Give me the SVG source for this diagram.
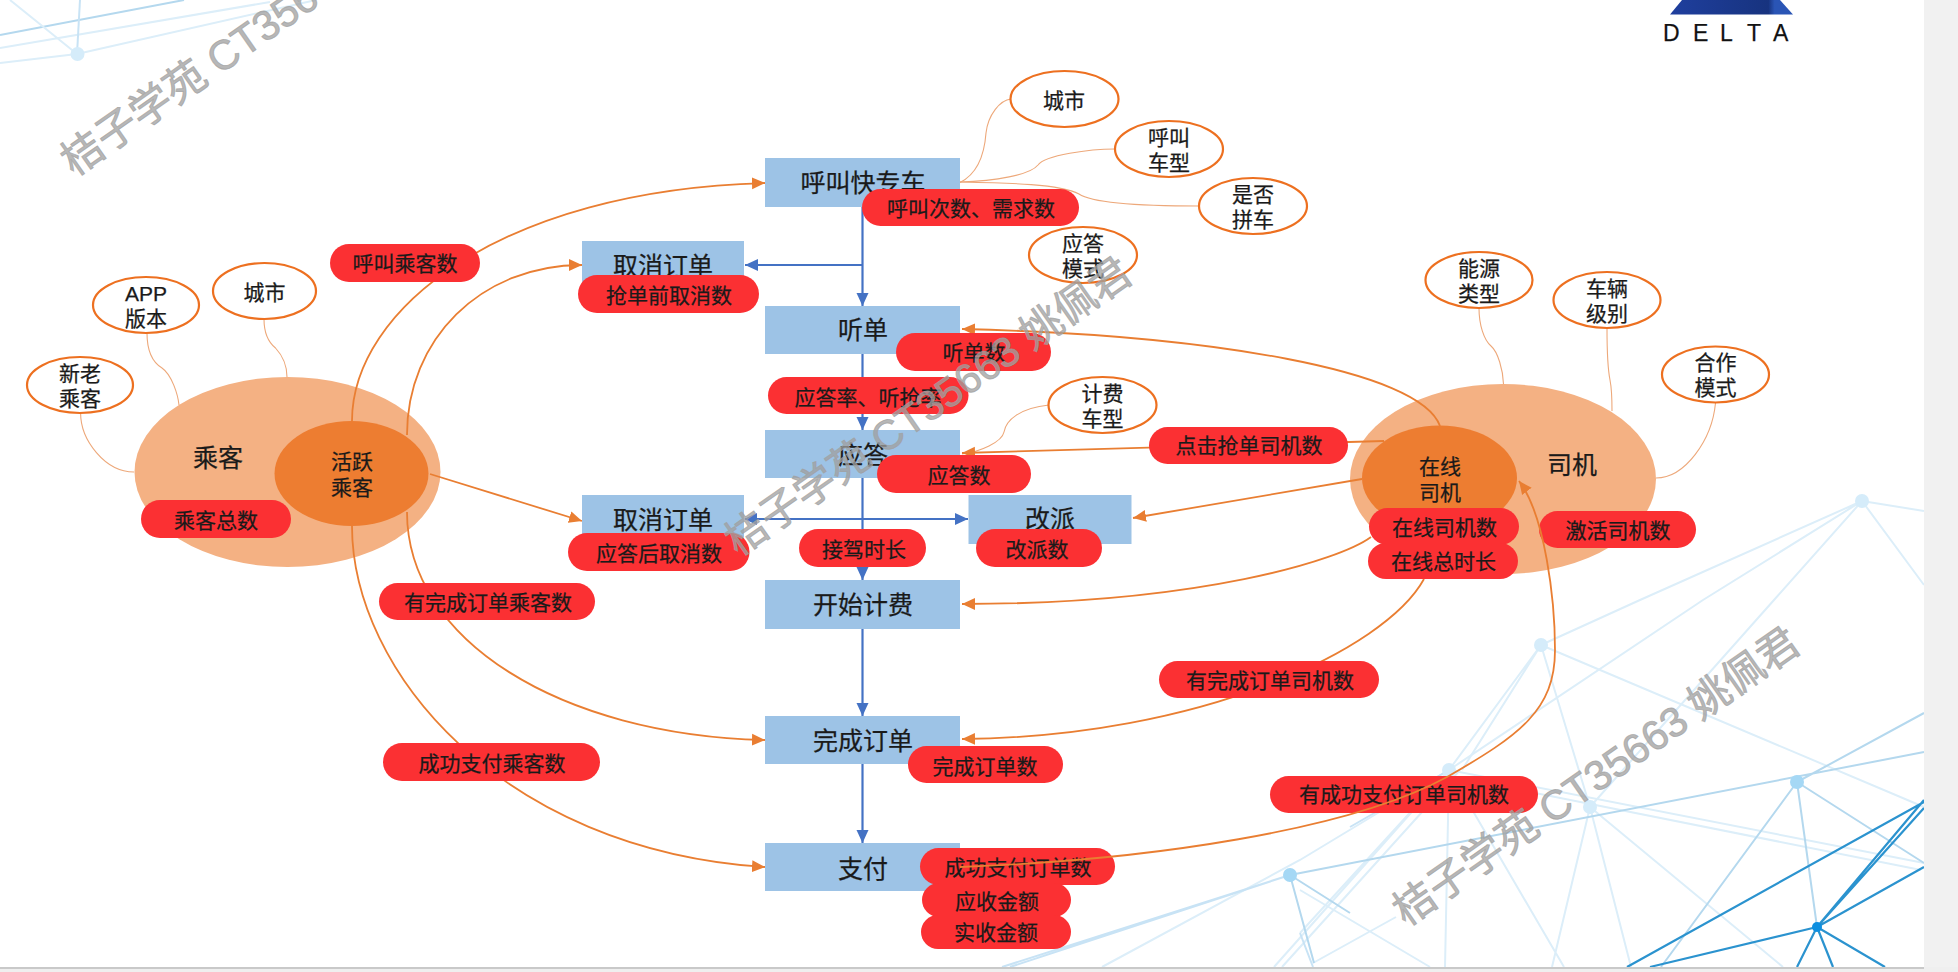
<svg xmlns="http://www.w3.org/2000/svg" width="1958" height="972" viewBox="0 0 1958 972">
<style>
text{font-family:"Liberation Sans","Noto Sans CJK SC",sans-serif;fill:#1a1a1a;stroke:#1a1a1a;stroke-width:.25;text-anchor:middle;dominant-baseline:central}
.box{fill:#9DC3E6}
.big{font-size:25px}
.pill{fill:#FB3033}
.pt{font-size:21px}
.attr{fill:#fff;stroke:#ED7020;stroke-width:2.2}
.at{font-size:21px}
.o{fill:none;stroke:#E97E32;stroke-width:1.8}
.thin{fill:none;stroke:#EDA87A;stroke-width:1.1}
.b{fill:none;stroke:#4472C4;stroke-width:2.2}
.l1{stroke:#DCEEF9;stroke-width:2;fill:none}
.l2{stroke:#C8E3F5;stroke-width:2;fill:none}
.l3{stroke:#B4D8EE;stroke-width:2;fill:none}
.l4{stroke:#2B93CF;stroke-width:2.2;fill:none}
.wm{font-size:41.5px;fill:#a0a0a0;fill-opacity:.75;stroke:#a0a0a0;stroke-opacity:.75;stroke-width:.9;text-anchor:start;dominant-baseline:auto}
</style>
<defs>
<marker id="ao" markerUnits="userSpaceOnUse" markerWidth="14" markerHeight="14" refX="13" refY="7" orient="auto"><path d="M0 1L13 7L0 13z" fill="#E97E32"/></marker>
<marker id="ab" markerUnits="userSpaceOnUse" markerWidth="14" markerHeight="14" refX="13" refY="7" orient="auto"><path d="M0 1L13 7L0 13z" fill="#4472C4"/></marker>
<marker id="abs" markerUnits="userSpaceOnUse" markerWidth="14" markerHeight="14" refX="1" refY="7" orient="auto"><path d="M13 1L0 7L13 13z" fill="#4472C4"/></marker>
<linearGradient id="lg" x1="0" y1="0" x2="1" y2="0"><stop offset="0" stop-color="#1F3F9E"/><stop offset=".8" stop-color="#17337F"/><stop offset=".85" stop-color="#2A55B5"/><stop offset="1" stop-color="#2A55B5"/></linearGradient>
</defs>
<rect width="1958" height="972" fill="#fff"/>
<g id="background">
<path class="l3" d="M0 35L184 0"/>
<path class="l1" d="M0 48L270 2M0 63L77 54L316 0M77 54L10 0"/>
<path class="l2" d="M77 54L80 0"/>
<path class="l1" d="M1862 501L1924 511M1862 501L1924 585M1862 501L1640 600L1541 645M1862 501L1703 600L1449 770M1862 501L1774 600L1590 807"/>
<path class="l1" d="M1541 645L1924 807M1541 645L1449 770M1541 645L1462 770M1541 645L1590 807M1449 770L1924 863M1470 780L1921 870"/>
<path class="l1" d="M1590 807L1552 967M1590 807L1631 967M1590 807L1783 967M1449 770L1564 967M1449 770L1445 967M1449 770L1300 933M1449 770L1300 860L1102 967M1449 770L1274 967M1460 770L1282 967M1300 890L1430 967M1396 917L1313 963"/>
<path class="l2" d="M1449 770L1350 827M1300 933L1313 967"/>
<path class="l3" d="M1290 875L1924 752M1797 782L1924 713M1797 782L1924 863M1797 782L1661 967M1797 782L1817 927M1290 875L1314 963M1290 875L1350 913"/>
<path class="l2" d="M1290 875L1002 967M1290 875L1010 967"/>
<path class="l4" d="M1817 927L1924 800M1817 927L1924 808M1817 927L1924 867M1817 927L1650 967M1817 927L1797 967M1817 927L1833 967M1817 927L1885 967M1627 967L1924 802"/>
<g fill="#D5ECFA"><circle cx="77.5" cy="54" r="7"/><circle cx="1862" cy="501" r="7"/><circle cx="1541" cy="645" r="7"/><circle cx="1449" cy="770" r="7"/><circle cx="1590" cy="807" r="7"/></g>
<circle cx="1290" cy="875" r="7" fill="#A5D8F5"/><circle cx="1797" cy="782" r="7" fill="#A5D8F5"/><circle cx="1817" cy="927" r="5" fill="#0D8FE0"/>
</g>
<g id="logo"><path d="M1682 0H1780L1793 14.5H1670Z" fill="url(#lg)"/><text x="1663 1693 1720 1747 1773" y="33" style="font-size:23px;text-anchor:start;fill:#111">DELTA</text></g>
<g id="node-passenger"><ellipse cx="287.5" cy="472" rx="153" ry="95" fill="#F4B183"/><text class="big" x="218" y="458">乘客</text></g>
<g id="node-driver"><ellipse cx="1503" cy="479" rx="153" ry="95" fill="#F4B183"/><text class="big" x="1572" y="465">司机</text></g>
<g id="connectors">
<path class="thin" d="M80.6 413C80.6 440 105 472 134 472"/>
<path class="thin" d="M147 333C147 350 152 362 162 368C172 375 178 395 179 405"/>
<path class="thin" d="M264 319C264 332 268 342 275.5 348C282 355 287 365 287 377"/>
<path class="thin" d="M960 182.5C975 175 984 160 986 133C988 115 1000 100 1011 99"/>
<path class="thin" d="M960 182C995 181 1030 175 1038 165C1045 155 1090 149 1115 149"/>
<path class="thin" d="M960 182C1010 183 1060 184 1079 194C1095 205 1170 206 1200 206"/>
<path class="thin" d="M1049 405C1020 408 1006 420 1004 432C1002 442 980 452 962 454"/>
<path class="thin" d="M1479 308C1479 325 1484 340 1491 346C1498 352 1503 370 1503.5 384"/>
<path class="thin" d="M1607 328C1607 350 1608 370 1610 380C1612 390 1612 400 1612 411"/>
<path class="thin" d="M1715.5 403C1712 440 1685 478 1656 478"/>
<path class="o" marker-end="url(#ao)" d="M352 421C352 310 500 190 765 183"/>
<path class="o" marker-end="url(#ao)" d="M407 435C407 340 480 265 582 265"/>
<path class="o" marker-end="url(#ao)" d="M430 474L582 521"/>
<path class="o" marker-end="url(#ao)" d="M407 512C407 640 560 735 765 740"/>
<path class="o" marker-end="url(#ao)" d="M352 526C352 670 500 850 765 867"/>
<path class="o" marker-end="url(#ao)" d="M1440 426C1420 370 1210 335 962 329"/>
<path class="o" marker-end="url(#ao)" d="M1384 441L962 453"/>
<path class="o" marker-end="url(#ao)" d="M1362 479L1133 518"/>
<path class="o" marker-end="url(#ao)" d="M1371 537C1340 560 1200 604 962 604"/>
<path class="o" marker-end="url(#ao)" d="M1424 579C1385 650 1200 737 962 739"/>
<path class="b" marker-end="url(#ab)" d="M862.5 207V306"/>
<path class="b" marker-end="url(#ab)" d="M862.5 265H745"/>
<path class="b" marker-end="url(#ab)" d="M862.5 354V430"/>
<path class="b" marker-end="url(#ab)" d="M862.5 478V580"/>
<path class="b" marker-start="url(#abs)" marker-end="url(#ab)" d="M745 519H968"/>
<path class="b" marker-end="url(#ab)" d="M862.5 629V716"/>
<path class="b" marker-end="url(#ab)" d="M862.5 764V843"/>
</g>
<g id="node-active-passenger"><ellipse cx="351.5" cy="473.5" rx="77" ry="52.5" fill="#ED7D31"/><text class="at" x="352" y="461">活跃</text><text class="at" x="352" y="487">乘客</text></g>
<g id="node-online-driver"><ellipse cx="1439.5" cy="478" rx="77.5" ry="52.5" fill="#ED7D31"/><text class="at" x="1440" y="466">在线</text><text class="at" x="1440" y="492">司机</text></g>
<g id="step-call"><rect class="box" x="765" y="158" width="195" height="49"/><text class="big" x="863" y="183">呼叫快专车</text></g>
<g id="step-cancel1"><rect class="box" x="582" y="241" width="162" height="49"/><text class="big" x="663" y="266">取消订单</text></g>
<g id="step-listen"><rect class="box" x="765" y="306" width="195" height="48"/><text class="big" x="863" y="330">听单</text></g>
<g id="step-answer"><rect class="box" x="765" y="430" width="195" height="48"/><text class="big" x="863" y="455">应答</text></g>
<g id="step-cancel2"><rect class="box" x="582" y="495" width="162" height="49"/><text class="big" x="663" y="520">取消订单</text></g>
<g id="step-reassign"><rect class="box" x="968.5" y="495" width="163" height="49"/><text class="big" x="1050" y="519">改派</text></g>
<g id="step-billing"><rect class="box" x="765" y="580" width="195" height="49"/><text class="big" x="863" y="605">开始计费</text></g>
<g id="step-done"><rect class="box" x="765" y="716" width="195" height="48"/><text class="big" x="863" y="741">完成订单</text></g>
<g id="step-pay"><rect class="box" x="765" y="843" width="195" height="48"/><text class="big" x="863" y="869">支付</text></g>
<g id="attr-1"><ellipse class="attr" cx="80" cy="385" rx="53" ry="28"/><text class="at" x="80" y="373">新老</text><text class="at" x="80" y="398.5">乘客</text></g>
<g id="attr-2"><ellipse class="attr" cx="146" cy="305" rx="53" ry="28"/><text class="at" x="146" y="293">APP</text><text class="at" x="146" y="318">版本</text></g>
<g id="attr-3"><ellipse class="attr" cx="264.5" cy="291" rx="51.5" ry="28"/><text class="at" x="264.5" y="292">城市</text></g>
<g id="attr-4"><ellipse class="attr" cx="1064.5" cy="99" rx="54" ry="28"/><text class="at" x="1064" y="100">城市</text></g>
<g id="attr-5"><ellipse class="attr" cx="1169" cy="149" rx="54" ry="28"/><text class="at" x="1169" y="137">呼叫</text><text class="at" x="1169" y="162">车型</text></g>
<g id="attr-6"><ellipse class="attr" cx="1253" cy="206" rx="54" ry="28"/><text class="at" x="1253" y="194">是否</text><text class="at" x="1253" y="219.5">拼车</text></g>
<g id="attr-7"><ellipse class="attr" cx="1083" cy="255" rx="54" ry="28"/><text class="at" x="1083" y="243">应答</text><text class="at" x="1083" y="268">模式</text></g>
<g id="attr-8"><ellipse class="attr" cx="1102.5" cy="405" rx="54" ry="28"/><text class="at" x="1102.5" y="393">计费</text><text class="at" x="1102.5" y="418.5">车型</text></g>
<g id="attr-9"><ellipse class="attr" cx="1479" cy="280" rx="53.5" ry="28"/><text class="at" x="1479" y="268">能源</text><text class="at" x="1479" y="293">类型</text></g>
<g id="attr-10"><ellipse class="attr" cx="1607" cy="300" rx="53.5" ry="28"/><text class="at" x="1607" y="288.5">车辆</text><text class="at" x="1607" y="313">级别</text></g>
<g id="attr-11"><ellipse class="attr" cx="1715.5" cy="374.5" rx="53.5" ry="28"/><text class="at" x="1715.5" y="362.6">合作</text><text class="at" x="1715.5" y="387.6">模式</text></g>
<g id="m-1"><rect class="pill" x="330" y="244" width="150" height="38" rx="19"/><text class="pt" x="405" y="263">呼叫乘客数</text></g>
<g id="m-2"><rect class="pill" x="578" y="275" width="181" height="38" rx="19"/><text class="pt" x="669" y="295">抢单前取消数</text></g>
<g id="m-3"><rect class="pill" x="862" y="189" width="217" height="37" rx="18.5"/><text class="pt" x="971" y="208.5">呼叫次数、需求数</text></g>
<g id="m-4"><rect class="pill" x="896" y="333" width="155" height="38" rx="19"/><text class="pt" x="974" y="352">听单数</text></g>
<g id="m-5"><rect class="pill" x="768" y="377" width="200.5" height="37" rx="18.5"/><text class="pt" x="868" y="397">应答率、听抢率</text></g>
<g id="m-6"><rect class="pill" x="877" y="455" width="154" height="38" rx="19"/><text class="pt" x="959" y="475">应答数</text></g>
<g id="m-7"><rect class="pill" x="1149" y="427" width="199" height="37" rx="18.5"/><text class="pt" x="1249" y="445">点击抢单司机数</text></g>
<g id="m-8"><rect class="pill" x="799" y="529" width="127" height="38" rx="19"/><text class="pt" x="864" y="549">接驾时长</text></g>
<g id="m-9"><rect class="pill" x="976" y="529" width="126" height="38" rx="19"/><text class="pt" x="1037" y="549">改派数</text></g>
<g id="m-10"><rect class="pill" x="908" y="746" width="155" height="37" rx="18.5"/><text class="pt" x="985" y="766">完成订单数</text></g>
<g id="m-11"><rect class="pill" x="920" y="848" width="195" height="37" rx="18.5"/><text class="pt" x="1018" y="867">成功支付订单数</text></g>
<g id="m-12"><rect class="pill" x="922" y="883" width="149" height="34" rx="17"/><text class="pt" x="997" y="901">应收金额</text></g>
<g id="m-13"><rect class="pill" x="921" y="915" width="150" height="34" rx="17"/><text class="pt" x="996" y="932">实收金额</text></g>
<g id="m-14"><rect class="pill" x="1159" y="661" width="220" height="37" rx="18.5"/><text class="pt" x="1270" y="680">有完成订单司机数</text></g>
<g id="m-15"><rect class="pill" x="1270" y="776" width="268" height="37" rx="18.5"/><text class="pt" x="1404" y="794">有成功支付订单司机数</text></g>
<g id="m-16"><rect class="pill" x="141" y="500" width="150" height="38" rx="19"/><text class="pt" x="216" y="520">乘客总数</text></g>
<g id="m-17"><rect class="pill" x="568" y="533" width="181.5" height="38" rx="19"/><text class="pt" x="659" y="553">应答后取消数</text></g>
<g id="m-18"><rect class="pill" x="379" y="583" width="216" height="37" rx="18.5"/><text class="pt" x="488" y="602">有完成订单乘客数</text></g>
<g id="m-19"><rect class="pill" x="383" y="743" width="217" height="38" rx="19"/><text class="pt" x="492" y="763">成功支付乘客数</text></g>
<g id="m-20"><rect class="pill" x="1369" y="508" width="150" height="37" rx="18.5"/><text class="pt" x="1444.5" y="527">在线司机数</text></g>
<g id="m-21"><rect class="pill" x="1368" y="543" width="150" height="36" rx="18"/><text class="pt" x="1443.5" y="561">在线总时长</text></g>
<g id="m-22"><rect class="pill" x="1539" y="511" width="157" height="37" rx="18.5"/><text class="pt" x="1618" y="530">激活司机数</text></g>
<g id="connectors-over">
<path class="o" marker-end="url(#ao)" d="M960 867C1150 860 1350 830 1447 777C1520 735 1555 710 1555 650C1555 600 1545 515 1519 481"/>
</g>
<g id="frame"><rect x="1924" width="34" height="972" fill="#F1F1F1"/><rect y="967" width="1958" height="5" fill="#EFEFEF"/><rect y="967" width="1924" height="2" fill="#C9C9C9"/></g>
<g id="watermarks">
<text class="wm" transform="translate(74 177) rotate(-35)">桔子学苑 CT35663 姚佩君</text>
<text class="wm" transform="translate(738 557) rotate(-35)">桔子学苑 CT35663 姚佩君</text>
<text class="wm" transform="translate(1406 927) rotate(-35)">桔子学苑 CT35663 姚佩君</text>
</g>
</svg>
